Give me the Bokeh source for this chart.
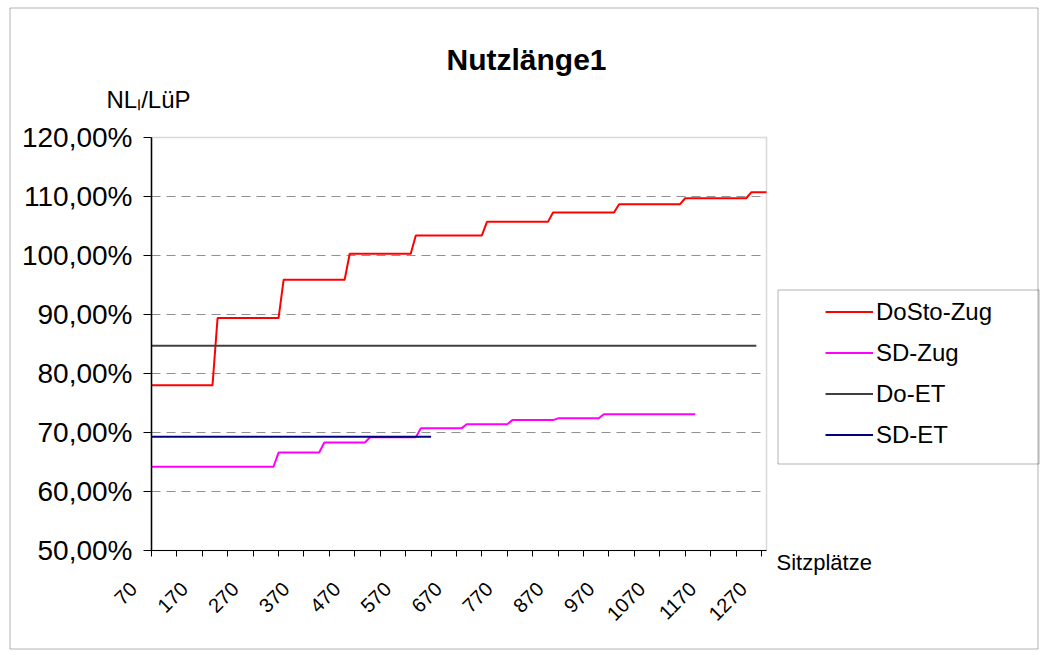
import math
from bokeh.plotting import figure
from bokeh.models import (Range1d, FixedTicker, Legend, LegendItem, Label, LabelSet,
                          BoxAnnotation, ColumnDataSource, Grid)
from bokeh.core.properties import value
from bokeh.embed import file_html
from bokeh.resources import INLINE

# ---------------- data ----------------
title_text = "Nutzlänge1"
y_title = "NLₗ/LüP"
x_title = "Sitzplätze"

seats_first = 70
seats_last = 1280
x_tick_labels = ["70", "170", "270", "370", "470", "570", "670", "770",
                 "870", "970", "1070", "1170", "1270"]
y_ticks = [50, 60, 70, 80, 90, 100, 110, 120]
y_tick_labels = ["50,00%", "60,00%", "70,00%", "80,00%", "90,00%",
                 "100,00%", "110,00%", "120,00%"]

series_names = ["DoSto-Zug", "SD-Zug", "Do-ET", "SD-ET"]

dosto_zug_x = [70, 190, 200, 320, 330, 450, 460, 580, 590, 720, 730, 850, 860,
               980, 990, 1110, 1120, 1240, 1250, 1280]
dosto_zug_y = [78.0, 78.0, 89.4, 89.4, 95.9, 95.9, 100.3, 100.3, 103.4, 103.4,
               105.7, 105.7, 107.3, 107.3, 108.7, 108.7, 109.7, 109.7, 110.7, 110.7]

sd_zug_x = [70, 310, 320, 400, 410, 490, 500, 590, 600, 680, 690, 770, 780,
            860, 870, 950, 960, 1140]
sd_zug_y = [64.2, 64.2, 66.6, 66.6, 68.3, 68.3, 69.2, 69.2, 70.7, 70.7, 71.4,
            71.4, 72.1, 72.1, 72.4, 72.4, 73.1, 73.1]

do_et_x = [70, 1260]
do_et_y = [84.7, 84.7]

sd_et_x = [70, 620]
sd_et_y = [69.3, 69.3]

colors = ["#FF0000", "#FF00FF", "#404040", "#000080"]

# ---------------- layout (pixels, canvas coordinates from top-left) ----------------
W, H = 1040, 652
PA_LEFT, PA_RIGHT, PA_TOP, PA_BOTTOM = 151, 766, 137, 550   # plot area
FONT = "Liberation Sans"

# ranges so that the plot area maps onto the pixel box above
sx = (PA_RIGHT - PA_LEFT) / (seats_last - seats_first)
sy = (PA_BOTTOM - PA_TOP) / (y_ticks[-1] - y_ticks[0])
x_range = Range1d(seats_first - PA_LEFT / sx, seats_last + (W - PA_RIGHT) / sx)
y_range = Range1d(y_ticks[0] - (H - PA_BOTTOM) / sy, y_ticks[-1] + PA_TOP / sy)

p = figure(width=W, height=H, output_backend="svg", toolbar_location=None,
           x_range=x_range, y_range=y_range, min_border=0)
p.background_fill_color = "white"
p.border_fill_color = "white"
p.outline_line_color = None

# plot-area frame (gray)
p.add_layout(BoxAnnotation(left=seats_first, right=seats_last, bottom=y_ticks[0], top=y_ticks[-1],
                           fill_color=None, line_color="#808080", line_width=1.5, level="underlay"))

# axes
x_ticks = list(range(seats_first, int(x_tick_labels[-1]) + 1, 50))
p.xaxis.fixed_location = y_ticks[0]
p.xaxis.bounds = (seats_first, seats_last)
p.xaxis.ticker = FixedTicker(ticks=x_ticks)
p.xaxis.major_label_text_color = None
p.xaxis.major_tick_out = 6
p.xaxis.major_tick_in = 0
p.xaxis.minor_tick_line_color = None
p.xaxis.axis_line_color = "black"
p.xaxis.major_tick_line_color = "black"

p.yaxis.fixed_location = seats_first
p.yaxis.bounds = (y_ticks[0], y_ticks[-1])
p.yaxis.ticker = FixedTicker(ticks=y_ticks)
p.yaxis.major_label_overrides = {t: l for t, l in zip(y_ticks, y_tick_labels)}
p.yaxis.major_label_text_font = FONT
p.yaxis.major_label_text_font_size = "28px"
p.yaxis.major_label_text_color = "black"
p.yaxis.major_label_standoff = 11
p.yaxis.major_tick_out = 8
p.yaxis.major_tick_in = 0
p.yaxis.minor_tick_line_color = None
p.yaxis.axis_line_color = "black"
p.yaxis.axis_line_width = 1.5
p.yaxis.major_tick_line_color = "black"

p.xgrid.grid_line_color = None
if "cross_bounds" in Grid.properties():
    p.ygrid.ticker = FixedTicker(ticks=y_ticks[1:-1])
    p.ygrid.cross_bounds = (seats_first, seats_last)
    p.ygrid.grid_line_color = "#909090"
    p.ygrid.grid_line_dash = "9 6"
    p.ygrid.grid_line_width = 1
else:
    p.ygrid.grid_line_color = None
    gy = y_ticks[1:-1]
    p.segment(x0=[seats_first] * len(gy), x1=[seats_last] * len(gy), y0=gy, y1=gy,
              line_color="#909090", line_dash="9 6", line_width=1, level="underlay")

# x tick labels (rotated, placed like the original)
xl_src = ColumnDataSource(dict(x=[int(t) for t in x_tick_labels],
                               y=[y_ticks[0]] * len(x_tick_labels),
                               text=x_tick_labels))
p.add_layout(LabelSet(x="x", y="y", text="text", source=xl_src, angle=math.pi / 4,
                      x_offset=-18, y_offset=-35, text_align="right", text_baseline="middle",
                      text_font=value(FONT), text_font_size="20px", text_color="black"))

# lines
xs = [dosto_zug_x, sd_zug_x, do_et_x, sd_et_x]
ys = [dosto_zug_y, sd_zug_y, do_et_y, sd_et_y]
renderers = []
for x, y, c in zip(xs, ys, colors):
    renderers.append(p.line(x, y, line_color=c, line_width=2))

# legend frame + legend
p.add_layout(BoxAnnotation(left=777.5, right=1038.5, bottom=H - 463.5, top=H - 289.5,
                           left_units="screen", right_units="screen",
                           bottom_units="screen", top_units="screen",
                           fill_color="white", fill_alpha=1, line_color="black", line_width=1,
                           level="annotation"))
legend = Legend(items=[LegendItem(label=n, renderers=[r]) for n, r in zip(series_names, renderers)],
                location=(825, H - 449), padding=0, margin=0, spacing=12,
                glyph_width=48, glyph_height=29, label_height=29, label_standoff=3,
                label_text_font=FONT, label_text_font_size="24px",
                label_text_color="black", border_line_alpha=0,
                background_fill_alpha=0)
p.add_layout(legend)

# outer chart border
p.add_layout(BoxAnnotation(left=9.5, right=1037.5, bottom=H - 648.5, top=H - 7.5,
                           left_units="screen", right_units="screen",
                           bottom_units="screen", top_units="screen",
                           fill_color=None, line_color="black", line_width=1, level="overlay"))

# texts
p.add_layout(Label(x=526, y=H - 59, x_units="screen", y_units="screen", text=title_text,
                   text_font=FONT, text_font_size="30px", text_font_style="bold",
                   text_align="center", text_baseline="alphabetic", text_color="black"))
p.add_layout(Label(x=106, y=H - 99, x_units="screen", y_units="screen", text=y_title,
                   text_font=FONT, text_font_size="24px",
                   text_align="left", text_baseline="alphabetic", text_color="black"))
p.add_layout(Label(x=776, y=H - 562, x_units="screen", y_units="screen", text=x_title,
                   text_font=FONT, text_font_size="22px",
                   text_align="left", text_baseline="alphabetic", text_color="black"))

open("out.html", "w").write(file_html(p, INLINE))
